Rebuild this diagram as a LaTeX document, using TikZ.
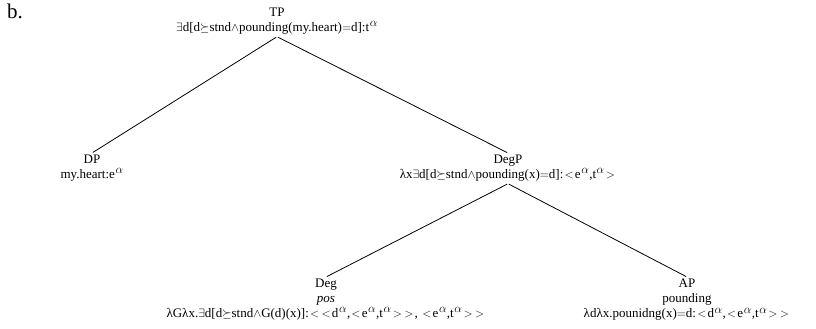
\documentclass[tikz,border=0pt]{standalone}
\usepackage{fontspec}
\setmainfont{Liberation Serif}
\usetikzlibrary{positioning}
\newcommand{\alf}{\kern0.6pt\raisebox{0.8ex}{\fontsize{12.5}{12}\selectfont$\alpha$}\kern0.4pt}
\newcommand{\lt}{\kern1.2pt$<$\kern1.2pt}
\newcommand{\gt}{\kern1.2pt$>$\kern1.2pt}
\tikzset{
  cat/.style={anchor=north, align=center, inner sep=2pt, font=\fontsize{13}{15}\selectfont},
  branch/.style={line width=0.8pt, shorten <=1pt, shorten >=1pt}
}
\begin{document}
\begin{tikzpicture}[x=1pt,y=-1pt]
  \useasboundingbox (0,0) rectangle (816,329);
  % label
  \node[anchor=north west, inner sep=0pt, font=\fontsize{21}{22}\selectfont] (lbl) at (7,4) {b.};
  % tree nodes
  \node[cat] (tp) at (277,6) {TP\\$\exists$d[d$\succeq$stnd$\wedge$pounding(my.heart)$=$d]:t\alf};
  \node[cat] (dp) at (92,153) {DP\\my.heart:e\alf};
  \node[cat] (degp) at (508,153) {DegP\\λx$\exists$d[d$\succeq$stnd$\wedge$pounding(x)$=$d]:\lt e\alf,t\alf\gt};
  \node[cat] (deg) at (326,277) {Deg\\\textit{pos}\\λGλx.$\exists$d[d$\succeq$stnd$\wedge$G(d)(x)]:\lt\lt d\alf,\lt e\alf,t\alf\gt\gt, \lt e\alf,t\alf\gt\gt};
  \node[cat] (ap) at (687,277) {AP\\pounding\\λdλx.pounidng(x)$=$d:\lt d\alf,\lt e\alf,t\alf\gt\gt};
  % branches
  \draw[branch] (tp.south) -- (dp.north);
  \draw[branch] (tp.south) -- (degp.north);
  \draw[branch] (degp.south) -- (deg.north);
  \draw[branch] (degp.south) -- (ap.north);
\end{tikzpicture}
\end{document}
